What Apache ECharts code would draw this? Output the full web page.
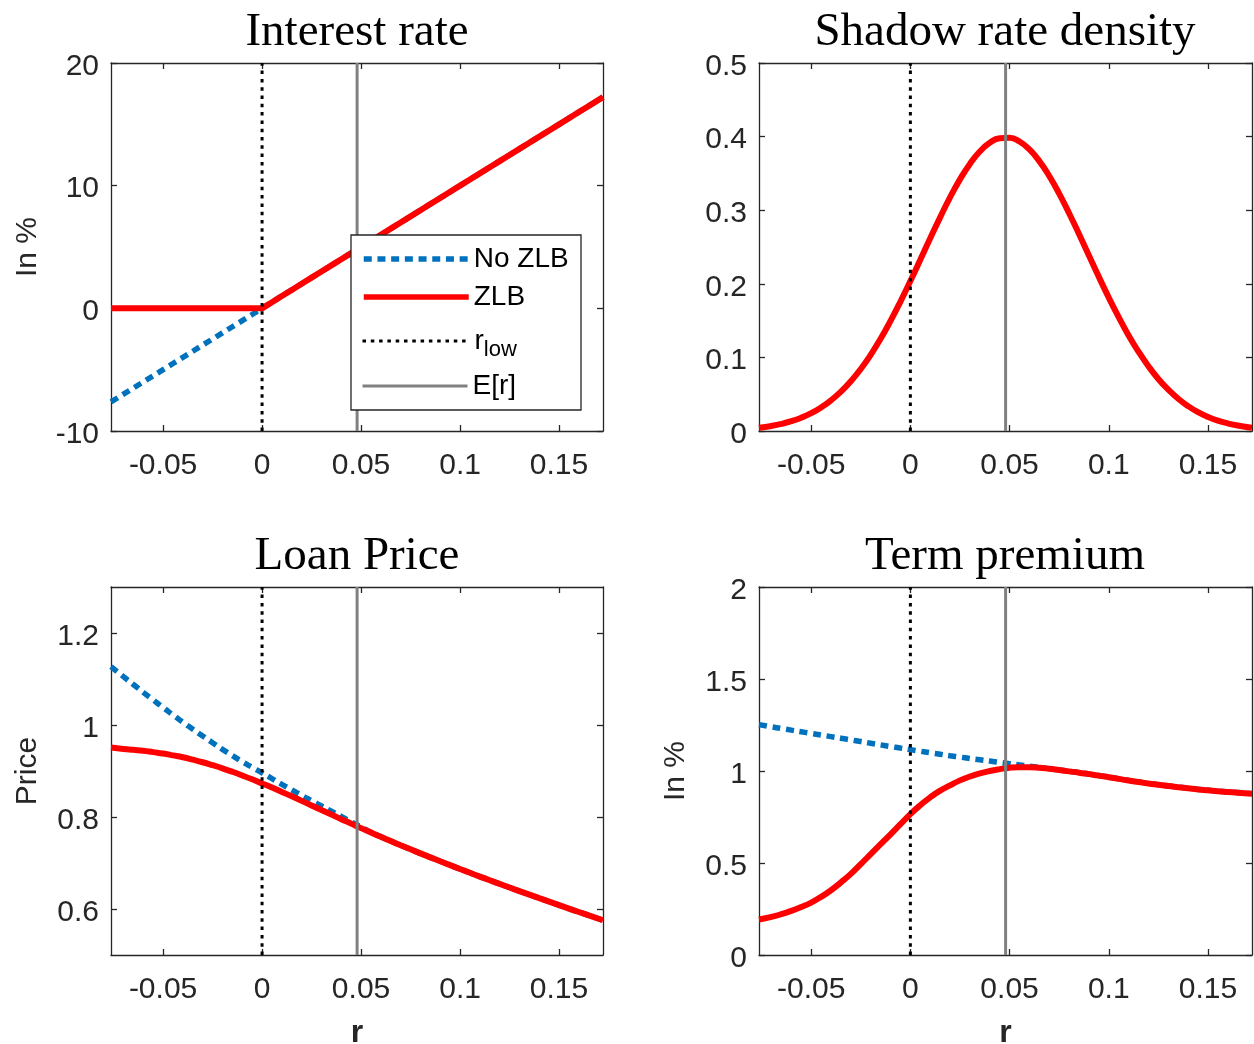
<!DOCTYPE html>
<html><head><meta charset="utf-8">
<script src="https://cdn.jsdelivr.net/npm/echarts@6/dist/echarts.min.js"></script>
<style>html,body{margin:0;padding:0;background:#fff}#c{width:1254px;height:1044px}</style>
</head><body><div id="c"></div>
<script>
// ---- data ----
const rGrid = [-0.0763, -0.07, -0.065, -0.06, -0.055, -0.05, -0.045, -0.04, -0.035, -0.03, -0.025, -0.02, -0.015, -0.01, -0.005, 0,
  0.005, 0.01, 0.015, 0.02, 0.025, 0.03, 0.035, 0.04, 0.045, 0.05, 0.055, 0.06, 0.065, 0.07, 0.075, 0.08, 0.085, 0.09, 0.095, 0.10,
  0.105, 0.11, 0.115, 0.12, 0.125, 0.13, 0.135, 0.14, 0.145, 0.15, 0.155, 0.16, 0.165, 0.1722];
const interestNoZLB = [-7.63, -7, -6.5, -6, -5.5, -5, -4.5, -4, -3.5, -3, -2.5, -2, -1.5, -1, -0.5, 0,
  0.5, 1, 1.5, 2, 2.5, 3, 3.5, 4, 4.5, 5, 5.5, 6, 6.5, 7, 7.5, 8, 8.5, 9, 9.5, 10,
  10.5, 11, 11.5, 12, 12.5, 13, 13.5, 14, 14.5, 15, 15.5, 16, 16.5, 17.22];
const interestZLB = [0, 0, 0, 0, 0, 0, 0, 0, 0, 0, 0, 0, 0, 0, 0, 0,
  0.5, 1, 1.5, 2, 2.5, 3, 3.5, 4, 4.5, 5, 5.5, 6, 6.5, 7, 7.5, 8, 8.5, 9, 9.5, 10,
  10.5, 11, 11.5, 12, 12.5, 13, 13.5, 14, 14.5, 15, 15.5, 16, 16.5, 17.22];
const shadowDensity = [0.0045, 0.0069, 0.0096, 0.0133, 0.0181, 0.0242, 0.0320, 0.0417, 0.0535, 0.0676, 0.0843, 0.1035, 0.1253, 0.1496, 0.1758, 0.2037,
  0.2326, 0.2618, 0.2903, 0.3174, 0.3419, 0.3629, 0.3797, 0.3915, 0.3979, 0.3985, 0.3933, 0.3825, 0.3667, 0.3465, 0.3225, 0.2959, 0.2676, 0.2385, 0.2094, 0.1812,
  0.1547, 0.1299, 0.1078, 0.0880, 0.0707, 0.0561, 0.0438, 0.0338, 0.0256, 0.0192, 0.0141, 0.0103, 0.0074, 0.0044];
const loanNoZLB = [1.127, 1.105, 1.088, 1.071, 1.0545, 1.038, 1.022, 1.006, 0.991, 0.976, 0.9615, 0.947, 0.9335, 0.920, 0.908, 0.896,
  0.8835, 0.871, 0.859, 0.847, 0.8355, 0.824, 0.8125, 0.801, 0.7895, 0.778, 0.767, 0.7572, 0.7477, 0.7386, 0.7297, 0.7209, 0.7123, 0.7037, 0.6953, 0.6869,
  0.6787, 0.6705, 0.6625, 0.6545, 0.6467, 0.6389, 0.6312, 0.6235, 0.6159, 0.6084, 0.6009, 0.5935, 0.5861, 0.5756];
const loanZLB = [0.951, 0.948, 0.946, 0.944, 0.941, 0.938, 0.934, 0.9298, 0.9246, 0.919, 0.9126, 0.9058, 0.8983, 0.8903, 0.8819, 0.873,
  0.8639, 0.8545, 0.8449, 0.8351, 0.8252, 0.8152, 0.8053, 0.7953, 0.7856, 0.7758, 0.7663, 0.7569, 0.7477, 0.7386, 0.7297, 0.7209, 0.7123, 0.7037, 0.6953, 0.6869,
  0.6787, 0.6705, 0.6625, 0.6545, 0.6467, 0.6389, 0.6312, 0.6235, 0.6159, 0.6084, 0.6009, 0.5935, 0.5861, 0.5756];
const termNoZLB = [1.252, 1.240, 1.231, 1.222, 1.213, 1.204, 1.1955, 1.187, 1.178, 1.169, 1.160, 1.151, 1.142, 1.133, 1.1245, 1.116,
  1.1075, 1.099, 1.091, 1.083, 1.0755, 1.068, 1.061, 1.054, 1.047, 1.040, 1.033, 1.026, 1.0195, 1.013, 1.006, 0.999, 0.992, 0.984, 0.976, 0.967,
  0.958, 0.949, 0.941, 0.933, 0.926, 0.919, 0.913, 0.907, 0.901, 0.896, 0.891, 0.887, 0.883, 0.877];
const termZLB = [0.193, 0.207, 0.222, 0.240, 0.261, 0.285, 0.316, 0.352, 0.395, 0.441, 0.494, 0.548, 0.602, 0.656, 0.711, 0.766,
  0.814, 0.857, 0.893, 0.922, 0.949, 0.970, 0.987, 1.000, 1.010, 1.018, 1.021, 1.021, 1.018, 1.012, 1.005, 0.998, 0.991, 0.983, 0.975, 0.966,
  0.957, 0.948, 0.940, 0.932, 0.925, 0.918, 0.912, 0.906, 0.900, 0.895, 0.890, 0.886, 0.882, 0.876];
const rLow = 0;
const expectedR = 0.048;
const xRange = [-0.0763, 0.1722];
const xTicks = [-0.05, 0, 0.05, 0.1, 0.15];
const interestRange = [-10, 20];
const interestTicks = [-10, 0, 10, 20];
const densityRange = [0, 0.5];
const densityTicks = [0, 0.1, 0.2, 0.3, 0.4, 0.5];
const loanRange = [0.5, 1.3];
const loanTicks = [0.6, 0.8, 1, 1.2];
const termRange = [0, 2];
const termTicks = [0, 0.5, 1, 1.5, 2];
const titles = ['Interest rate', 'Shadow rate density', 'Loan Price', 'Term premium'];
const legendNames = ['No ZLB', 'ZLB', 'r_low', 'E[r]'];

// ---- chart ----
const SANS = 'Liberation Sans, Arial, sans-serif';
const SERIF = 'Liberation Serif, Times New Roman, serif';
const AX = '#262626';

const panels = [
  {grid: {left: 111, top: 63, width: 492, height: 368}, yr: interestRange, yt: interestTicks, yName: 'In %', xName: '', noZLB: interestNoZLB, zlb: interestZLB, smooth: false, titleX: 357, titleTop: 9},
  {grid: {left: 759, top: 63, width: 493, height: 368}, yr: densityRange, yt: densityTicks, yName: '', xName: '', noZLB: null, zlb: shadowDensity, smooth: true, titleX: 1005, titleTop: 9},
  {grid: {left: 111, top: 587, width: 492, height: 368}, yr: loanRange, yt: loanTicks, yName: 'Price', xName: 'r', noZLB: loanNoZLB, zlb: loanZLB, smooth: true, titleX: 357, titleTop: 533},
  {grid: {left: 759, top: 587, width: 493, height: 368}, yr: termRange, yt: termTicks, yName: 'In %', xName: 'r', noZLB: termNoZLB, zlb: termZLB, smooth: true, titleX: 1005, titleTop: 533}
];

const grid = [], xAxis = [], yAxis = [], series = [], title = [];
const lineAxis = {show: true, onZero: false, lineStyle: {color: AX, width: 1.3}};
panels.forEach((p, i) => {
  grid.push(Object.assign({outerBoundsMode: 'none', containLabel: false}, p.grid));
  title.push({text: titles[i], left: p.titleX, top: p.titleTop, textAlign: 'center', padding: 0,
    textStyle: {fontFamily: SERIF, fontSize: 47, fontWeight: 'normal', color: '#000'}});
  const xBase = {type: 'value', gridIndex: i, min: xRange[0], max: xRange[1], splitLine: {show: false}, axisLine: lineAxis};
  xAxis.push(Object.assign({}, xBase, {position: 'bottom',
    axisTick: {show: true, inside: true, length: 6, customValues: xTicks, lineStyle: {color: AX, width: 1.3}},
    axisLabel: {show: true, customValues: xTicks, fontSize: 30, fontFamily: SANS, color: AX, margin: 20},
    name: p.xName, nameLocation: 'middle', nameGap: 62,
    nameTextStyle: {fontFamily: SANS, fontSize: 32, fontWeight: 'bold', color: AX}}));
  xAxis.push(Object.assign({}, xBase, {position: 'top',
    axisTick: {show: true, inside: true, length: 6, customValues: xTicks, lineStyle: {color: AX, width: 1.3}},
    axisLabel: {show: false}}));
  const yBase = {type: 'value', gridIndex: i, min: p.yr[0], max: p.yr[1], splitLine: {show: false}, axisLine: lineAxis};
  yAxis.push(Object.assign({}, yBase, {position: 'left',
    axisTick: {show: true, inside: true, length: 6, customValues: p.yt, lineStyle: {color: AX, width: 1.3}},
    axisLabel: {show: true, customValues: p.yt, fontSize: 30, fontFamily: SANS, color: AX, margin: 12,
      lineHeight: 7, formatter: function (v) { return '\n' + v; }},
    name: p.yName, nameLocation: 'middle', nameGap: 68, nameRotate: 90,
    nameTextStyle: {fontFamily: SANS, fontSize: 30, color: AX}}));
  yAxis.push(Object.assign({}, yBase, {position: 'right',
    axisTick: {show: true, inside: true, length: 6, customValues: p.yt, lineStyle: {color: AX, width: 1.3}},
    axisLabel: {show: false}}));
  const xi = 2 * i, yi = 2 * i;
  if (p.noZLB) {
    series.push({name: 'No ZLB', type: 'line', xAxisIndex: xi, yAxisIndex: yi, symbol: 'none', smooth: p.smooth,
      data: rGrid.map((r, k) => [r, p.noZLB[k]]),
      lineStyle: {color: '#0072BD', width: 5.5, type: [8, 5.7], cap: 'butt'}, itemStyle: {color: '#0072BD'}});
  }
  series.push({name: 'ZLB', type: 'line', xAxisIndex: xi, yAxisIndex: yi, symbol: 'none', smooth: p.smooth,
    data: rGrid.map((r, k) => [r, p.zlb[k]]),
    lineStyle: {color: '#FF0000', width: 6}, itemStyle: {color: '#FF0000'}});
  series.push({name: 'r_low', type: 'line', xAxisIndex: xi, yAxisIndex: yi, symbol: 'none',
    data: [[rLow, p.yr[0]], [rLow, p.yr[1]]],
    lineStyle: {color: '#000', width: 3, type: [3.5, 4.8], cap: 'butt'}, itemStyle: {color: '#000'}});
  series.push({name: 'E[r]', type: 'line', xAxisIndex: xi, yAxisIndex: yi, symbol: 'none',
    data: [[expectedR, p.yr[0]], [expectedR, p.yr[1]]],
    lineStyle: {color: '#808080', width: 3}, itemStyle: {color: '#808080'}});
});

// one legend row per entry, inside a framed box
const legendRowTops = [245, 283, 327, 372];
const legendWidths = [5.5, 5.5, 3, 3];
const legend = legendNames.map((n, k) => ({
  orient: 'vertical', left: 361, top: legendRowTops[k], padding: 0, z: 10,
  itemWidth: 105, itemHeight: 20, itemGap: 0, selectedMode: false,
  itemStyle: {opacity: 0},
  data: [{name: n, lineStyle: {width: legendWidths[k]}, itemStyle: {opacity: 0}}],
  formatter: function (s) { return s === 'r_low' ? '{a|r}{b|low}' : s; },
  textStyle: {fontFamily: SANS, fontSize: 28, color: '#000',
    rich: {a: {fontFamily: SANS, fontSize: 28, color: '#000', padding: [0, 0, 0, 2]},
           b: {fontFamily: SANS, fontSize: 22, color: '#000', padding: [18, 0, 0, 0]}}}
}));

const option = {
  animation: false,
  backgroundColor: '#fff',
  title: title,
  grid: grid, xAxis: xAxis, yAxis: yAxis, series: series,
  legend: legend,
  graphic: [{type: 'rect', z: 9, shape: {x: 351, y: 235, width: 230, height: 175},
    style: {fill: '#fff', stroke: AX, lineWidth: 1.3}}]
};
const chart = echarts.init(document.getElementById('c'), null, {renderer: 'canvas'});
chart.setOption(option);
</script></body></html>
